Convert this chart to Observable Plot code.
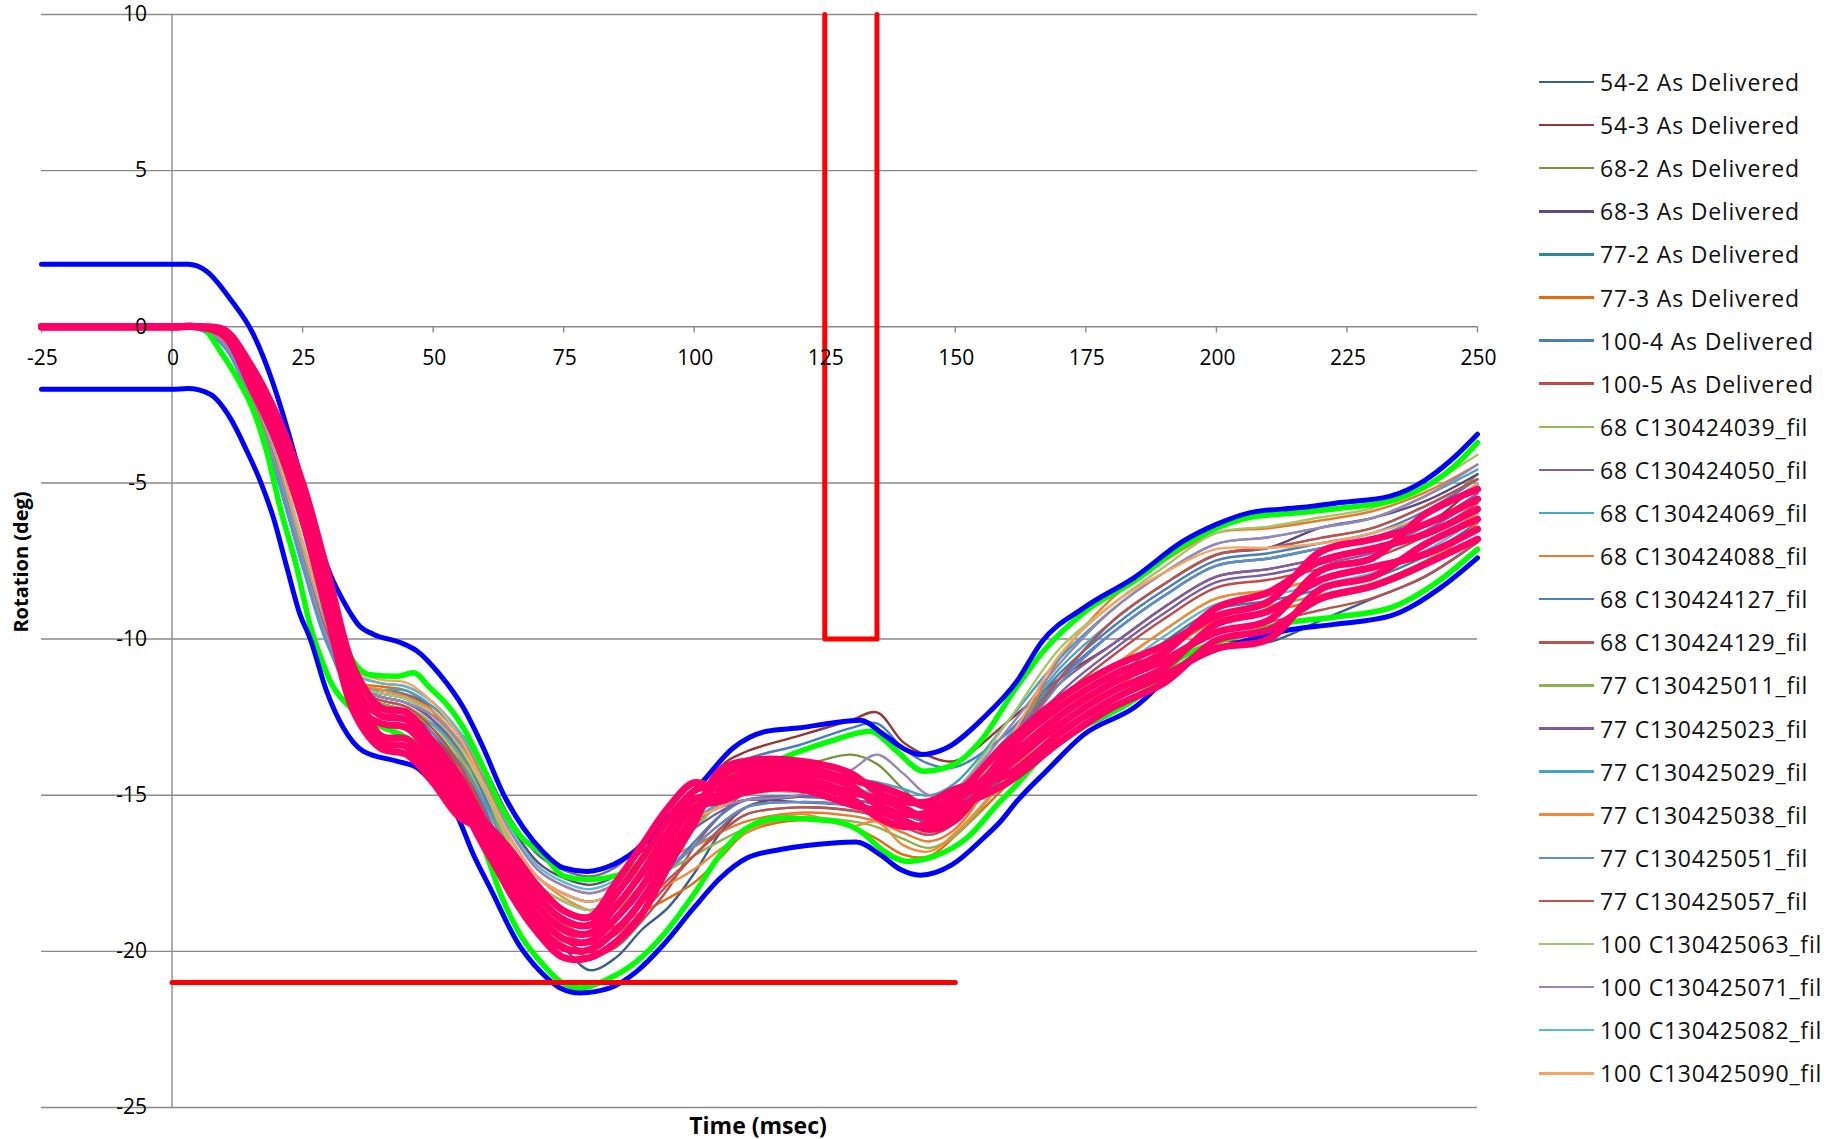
<!DOCTYPE html>
<html><head><meta charset="utf-8">
<script src="https://cdn.jsdelivr.net/npm/d3@7"></script>
<script src="https://cdn.jsdelivr.net/npm/@observablehq/plot@0.6"></script>
<style>
html,body{margin:0;padding:0;background:#fff;}
#wrap{position:relative;width:1843px;height:1139px;overflow:hidden;font-family:"Open Sans",sans-serif;color:#000;}
#chart{position:absolute;left:0;top:0;}
.item{position:absolute;left:1539px;display:flex;align-items:center;white-space:nowrap;transform:translateY(-50%);}
.item .sw{width:55px;height:2.5px;margin-right:6px;}
.item .lb{font-size:23px;color:#111;letter-spacing:0.8px;line-height:30px;}
.title{position:absolute;font-weight:700;white-space:nowrap;line-height:1;transform:translate(-50%,-50%);}
</style></head><body>
<div id="wrap"><div id="chart"></div></div>
<script>
// ---------- data ----------
const xTicks = [-25, 0, 25, 50, 75, 100, 125, 150, 175, 200, 225, 250];
const yTicks = [10, 5, 0, -5, -10, -15, -20, -25];

const seriesNames = ["54-2 As Delivered","54-3 As Delivered","68-2 As Delivered","68-3 As Delivered","77-2 As Delivered","77-3 As Delivered","100-4 As Delivered","100-5 As Delivered","68 C130424039_fil","68 C130424050_fil","68 C130424069_fil","68 C130424088_fil","68 C130424127_fil","68 C130424129_fil","77 C130425011_fil","77 C130425023_fil","77 C130425029_fil","77 C130425038_fil","77 C130425051_fil","77 C130425057_fil","100 C130425063_fil","100 C130425071_fil","100 C130425082_fil","100 C130425090_fil"];
const seriesColors = ["#3B5F8F","#953735","#77933C","#5F497A","#31859C","#E46C0A","#4A7EBB","#BE4B48","#98B954","#7D60A0","#46AAC5","#E97A2B","#4D7FC0","#B85450","#8FB14E","#7A5DA0","#3FA5C2","#F28A3C","#5E8DCB","#C2504D","#A6C46A","#9A84B8","#5DB8D2","#F7A463"];

const times = [-25, 0, 5, 10, 15, 20, 25, 30, 35, 40, 45, 50, 55, 60, 65, 70, 75, 80, 85, 90, 95, 100, 105, 110, 120, 130, 135, 140, 145, 150, 160, 170, 180, 190, 200, 210, 220, 230, 240, 250];

const s01 = [0, 0, -0.05, -0.54, -2.22, -4.5, -7.4, -10.06, -11.77, -12.07, -12.31, -13.02, -14.24, -16.0, -17.9, -19.3, -19.9, -20.6, -20.2, -19.3, -18.6, -17.5, -16.2, -15.38, -15.05, -15.15, -15.3, -15.6, -15.85, -15.45, -14.4, -13.2, -12.4, -11.2, -10.1, -10.1, -9.4, -8.7, -8.0, -6.9];
const s02 = [0, 0, -0.04, -0.46, -2.08, -4.3, -7.2, -9.84, -11.55, -11.85, -12.05, -12.6, -13.76, -15.64, -17.69, -19.06, -19.65, -20.03, -19.73, -18.74, -17.4, -15.77, -14.1, -13.6, -13.1, -12.6, -12.35, -13.3, -13.75, -13.9, -12.65, -11.26, -10.18, -8.98, -8.0, -7.76, -7.42, -7.08, -6.38, -5.03];
const s03 = [0, 0, -0.05, -0.5, -2.15, -4.4, -7.3, -9.95, -11.44, -11.63, -11.79, -12.32, -13.44, -15.1, -17.06, -18.34, -18.9, -19.22, -18.92, -18.18, -17.1, -16.06, -15.11, -14.46, -14.1, -13.7, -14.0, -14.8, -15.4, -15.1, -13.15, -11.26, -9.81, -8.61, -7.65, -7.42, -7.09, -6.76, -6.06, -4.72];
const s04 = [0, 0, -0.03, -0.42, -2.01, -4.2, -7.1, -9.73, -11.44, -11.74, -11.92, -12.46, -13.28, -14.56, -16.01, -17.14, -17.65, -17.87, -17.57, -16.78, -16.2, -15.77, -15.38, -15.15, -15.22, -15.32, -15.48, -15.8, -16.06, -15.45, -13.4, -11.26, -9.44, -8.24, -7.3, -7.08, -6.43, -6.12, -5.58, -4.72];
const s05 = [0, 0, -0.06, -0.58, -2.29, -4.6, -7.5, -10.17, -11.66, -11.96, -12.18, -12.74, -13.76, -15.1, -16.85, -18.1, -18.65, -18.95, -18.65, -17.9, -17.4, -16.64, -16.19, -15.61, -15.39, -15.49, -15.66, -16.0, -16.27, -15.87, -14.15, -12.54, -11.29, -10.09, -9.05, -8.78, -8.41, -8.04, -7.34, -6.27];
const s06 = [0, 0, -0.02, -0.38, -1.94, -4.1, -7.0, -9.62, -11.33, -11.52, -11.66, -12.32, -13.6, -15.46, -17.27, -18.58, -19.15, -19.49, -19.19, -18.74, -18.3, -17.8, -17.0, -16.2, -15.8, -16.0, -16.4, -16.9, -16.95, -16.3, -14.65, -12.86, -11.66, -10.46, -9.4, -9.12, -8.74, -8.36, -7.66, -6.27];
const s07 = [0, 0, -0.05, -0.5, -2.15, -4.4, -7.3, -9.95, -11.55, -11.85, -12.05, -12.6, -13.76, -15.46, -17.48, -18.82, -19.4, -19.76, -19.46, -18.46, -17.1, -15.77, -14.4, -13.85, -13.4, -12.85, -12.7, -13.5, -14.0, -14.1, -13.0, -11.1, -9.63, -8.43, -7.48, -7.25, -6.93, -6.6, -5.9, -4.88];
const s08 = [0, 0, -0.05, -0.54, -2.22, -4.5, -7.4, -10.06, -11.77, -12.18, -12.44, -13.02, -14.08, -15.82, -17.8, -19.18, -19.78, -20.17, -19.87, -19.02, -18.0, -16.64, -15.65, -14.92, -14.88, -14.98, -15.12, -15.4, -15.64, -15.24, -13.65, -11.9, -10.55, -9.35, -8.35, -8.1, -7.75, -7.4, -6.7, -5.65];
const s09 = [0, 0, -0.04, -0.46, -2.08, -4.3, -7.2, -9.84, -11.55, -11.96, -12.18, -12.74, -13.76, -15.1, -16.64, -17.86, -18.4, -18.68, -18.38, -17.62, -16.8, -16.06, -15.25, -14.69, -14.71, -14.81, -14.94, -15.2, -15.43, -15.03, -13.53, -12.06, -10.92, -9.72, -8.7, -8.44, -8.08, -7.72, -7.02, -5.96];
const s10 = [0, 0, -0.05, -0.5, -2.15, -4.4, -7.3, -9.95, -11.44, -11.63, -11.79, -12.18, -12.96, -14.2, -15.8, -16.9, -17.4, -17.6, -17.3, -16.5, -15.75, -15.19, -14.7, -14.46, -14.54, -14.64, -14.76, -15.0, -15.22, -14.82, -13.15, -11.42, -10.18, -8.98, -8.0, -7.76, -7.42, -7.08, -6.38, -5.34];
const s11 = [0, 0, -0.07, -0.62, -2.36, -4.7, -7.6, -10.28, -11.88, -12.18, -12.44, -12.74, -13.6, -14.92, -16.43, -17.62, -18.15, -18.41, -18.11, -17.34, -16.5, -15.77, -15.25, -14.92, -14.88, -14.98, -15.12, -15.4, -15.64, -15.24, -13.15, -10.94, -9.44, -8.24, -7.3, -7.08, -6.76, -6.44, -5.74, -4.88];
const s12 = [0, 0, -0.02, -0.34, -1.87, -4.0, -6.9, -9.51, -11.11, -11.41, -11.53, -12.04, -13.04, -14.56, -16.22, -17.38, -17.9, -18.14, -17.84, -17.34, -16.95, -16.64, -16.19, -15.84, -15.56, -15.66, -15.84, -16.2, -16.48, -16.08, -13.65, -10.62, -8.7, -7.5, -6.6, -6.45, -6.2, -5.9, -5.3, -4.41];
const s13 = [0, 0, -0.05, -0.54, -2.22, -4.5, -7.4, -10.06, -11.55, -11.74, -11.92, -12.46, -13.44, -15.1, -17.06, -18.34, -18.9, -19.22, -18.92, -18.18, -17.4, -16.5, -15.65, -15.15, -15.05, -15.15, -15.3, -15.6, -15.85, -15.45, -13.4, -11.26, -9.81, -8.61, -7.65, -7.42, -7.09, -6.76, -6.06, -5.03];
const s14 = [0, 0, -0.06, -0.58, -2.29, -4.6, -7.5, -10.17, -11.94, -12.29, -12.57, -13.16, -14.24, -15.64, -17.27, -18.58, -19.15, -19.49, -19.19, -18.46, -17.7, -16.93, -16.06, -15.38, -15.22, -15.32, -15.48, -15.8, -16.06, -15.66, -14.28, -13.02, -12.03, -10.83, -9.75, -9.46, -9.07, -8.68, -7.98, -6.89];
const s15 = [0, 0, -0.03, -0.42, -2.01, -4.2, -7.1, -9.84, -11.66, -12.07, -12.31, -12.88, -13.92, -15.28, -16.85, -18.1, -18.65, -18.95, -18.65, -17.9, -17.4, -16.93, -16.46, -16.07, -15.73, -15.83, -16.02, -16.4, -16.69, -16.29, -14.4, -12.7, -11.48, -10.28, -9.23, -8.95, -8.58, -8.2, -7.5, -6.43];
const s16 = [0, 0, -0.04, -0.46, -2.08, -4.3, -7.2, -9.84, -11.55, -11.85, -12.05, -12.6, -13.52, -14.92, -16.43, -17.62, -18.15, -18.41, -18.11, -17.34, -16.65, -16.06, -15.52, -15.15, -15.05, -15.15, -15.3, -15.6, -15.85, -15.45, -13.78, -11.74, -10.37, -9.17, -8.18, -7.93, -7.59, -7.24, -6.54, -5.5];
const s17 = [0, 0, -0.08, -0.66, -2.43, -4.8, -7.7, -10.28, -11.55, -11.63, -11.66, -12.18, -13.12, -14.74, -16.64, -17.86, -18.4, -18.68, -18.38, -17.62, -16.5, -15.48, -14.71, -14.23, -14.37, -14.47, -14.58, -14.8, -15.01, -14.61, -12.65, -10.62, -9.07, -7.87, -6.95, -6.74, -6.43, -6.12, -5.42, -4.57];
const s18 = [0, 0, -0.02, -0.38, -1.94, -4.1, -7.0, -9.62, -11.33, -11.63, -11.86, -12.32, -13.28, -14.74, -16.43, -17.62, -18.28, -18.68, -18.65, -18.18, -17.85, -17.37, -16.73, -16.19, -15.6, -16.0, -15.85, -16.6, -16.8, -16.2, -14.4, -12.54, -10.92, -9.72, -8.7, -8.44, -8.08, -7.72, -7.02, -5.96];
const s19 = [0, 0, -0.06, -0.58, -2.29, -4.6, -7.5, -10.17, -11.83, -12.18, -12.44, -13.02, -13.92, -15.28, -17.06, -18.34, -18.9, -19.22, -18.92, -18.18, -17.4, -16.64, -15.92, -15.38, -15.22, -15.32, -15.48, -15.8, -16.06, -15.66, -13.65, -11.42, -9.81, -8.61, -7.65, -7.42, -7.09, -6.76, -6.06, -5.19];
const s20 = [0, 0, -0.05, -0.5, -2.15, -4.4, -7.3, -9.95, -11.66, -11.96, -12.18, -12.88, -14.0, -15.64, -17.48, -18.82, -19.4, -19.76, -19.46, -18.74, -17.85, -16.93, -16.19, -15.61, -15.39, -15.49, -15.66, -16.0, -16.27, -15.87, -13.65, -11.26, -9.44, -8.24, -7.3, -7.08, -6.76, -6.44, -5.74, -4.88];
const s21 = [0, 0, -0.03, -0.42, -2.01, -4.2, -7.1, -9.73, -11.44, -11.74, -11.92, -12.46, -13.44, -14.92, -16.64, -17.86, -18.4, -18.68, -18.38, -17.48, -16.5, -15.63, -14.84, -14.46, -14.54, -14.64, -14.76, -15.0, -15.22, -14.82, -12.65, -10.3, -8.89, -7.69, -6.6, -6.4, -6.1, -5.8, -5.1, -4.1];
const s22 = [0, 0, -0.05, -0.54, -2.22, -4.5, -7.4, -10.06, -11.55, -11.85, -12.05, -12.46, -13.28, -14.56, -16.22, -17.38, -17.9, -18.14, -17.84, -17.06, -16.2, -15.77, -15.38, -15.15, -15.0, -14.2, -13.7, -14.3, -15.0, -14.8, -12.9, -10.78, -9.07, -7.87, -6.95, -6.74, -6.43, -6.12, -5.42, -4.41];
const s23 = [0, 0, -0.02, -0.38, -1.94, -4.1, -7.0, -9.62, -11.11, -11.41, -11.53, -12.04, -12.96, -14.38, -16.12, -17.26, -17.78, -18.01, -17.71, -17.06, -16.2, -15.63, -15.11, -14.69, -14.71, -14.81, -14.94, -15.2, -15.43, -15.03, -13.53, -12.22, -11.11, -9.91, -8.88, -8.61, -8.25, -7.88, -7.18, -6.12];
const s24 = [0, 0, -0.02, -0.34, -1.87, -4.0, -6.9, -9.51, -11.0, -11.3, -11.4, -12.04, -13.12, -14.74, -16.43, -17.62, -18.15, -18.41, -18.11, -17.34, -16.5, -15.77, -15.38, -14.92, -14.88, -14.98, -15.12, -15.4, -15.64, -15.24, -13.28, -10.5, -8.9, -7.87, -7.12, -7.08, -6.93, -6.6, -6.06, -5.03];

// thick pink test curves (same time grid)
const pinkA = [0, 0, 0, -0.1, -1.2, -2.8, -5.0, -8.0, -11.0, -12.2, -12.35, -13.3, -14.4, -15.88, -17.12, -18.22, -19.0, -19.16, -18.18, -17.04, -15.78, -14.86, -14.6, -14.3, -14.26, -14.7, -15.3, -15.6, -15.56, -15.2, -13.82, -12.46, -11.42, -10.68, -9.78, -9.4, -7.8, -7.4, -6.0, -5.2];
const pinkB = [0, 0, 0, -0.14, -1.34, -2.98, -5.24, -8.28, -11.28, -13.1, -13.2, -14.1, -15.2, -16.72, -18.08, -19.18, -19.9, -19.94, -19.32, -18.36, -16.92, -15.64, -14.2, -13.9, -13.9, -14.3, -14.9, -15.2, -15.2, -14.8, -14.34, -13.02, -11.94, -11.16, -10.3, -10.0, -8.4, -8.0, -6.96, -6.16];
const pinkC = [0, 0, 0, -0.18, -1.48, -3.16, -5.48, -8.56, -11.56, -12.45, -12.6, -13.55, -14.65, -16.44, -17.76, -18.86, -19.6, -19.68, -18.94, -17.92, -16.54, -15.38, -15.2, -14.9, -14.8, -15.3, -15.5, -15.8, -16.1, -15.8, -13.56, -12.18, -11.16, -10.44, -9.0, -8.5, -7.5, -7.1, -6.64, -5.84];
const pinkD = [0, 0, 0, -0.22, -1.62, -3.34, -5.72, -8.84, -11.84, -13.3, -13.45, -14.35, -15.45, -15.9, -16.8, -17.9, -18.7, -18.9, -17.8, -16.6, -15.4, -14.6, -14.8, -14.5, -14.44, -14.9, -15.1, -15.4, -15.74, -15.4, -14.6, -13.3, -12.2, -11.4, -10.04, -9.7, -8.7, -8.3, -7.6, -6.8];
const pinkE = [0, 0, 0, -0.26, -1.76, -3.52, -5.96, -9.12, -12.12, -12.7, -12.85, -13.8, -14.9, -16.6, -18.2, -19.4, -20.2, -20.2, -19.7, -18.8, -17.3, -15.9, -14.4, -14.1, -14.08, -14.5, -14.7, -15.0, -15.38, -15.0, -13.3, -11.9, -10.9, -10.2, -9.26, -8.8, -7.2, -6.8, -6.32, -5.52];
const pinkF = [0, 0, 0, -0.3, -1.9, -3.7, -6.2, -9.4, -12.4, -13.5, -13.7, -14.6, -15.7, -16.16, -17.44, -18.54, -19.3, -19.42, -18.56, -17.48, -16.16, -15.12, -15.0, -14.7, -14.62, -15.1, -15.7, -16.0, -15.92, -15.6, -14.08, -12.74, -11.68, -10.92, -9.52, -9.1, -8.1, -7.7, -7.28, -6.48];

// corridor curves
const blueUpperT = [-25, 0, 3, 6.6, 11.1, 15.6, 19.4, 22, 25.2, 27.7, 30.3, 32.8, 36, 38.6, 43.7, 46.9, 51.3, 55.8, 59.6, 63.5, 67.3, 71, 75, 79.4, 84.5, 90.9, 96, 101.1, 107.5, 113.9, 120.3, 126.7, 131.8, 136.3, 140, 143.3, 148.4, 155.4, 161.8, 166.5, 174.6, 184.2, 193.7, 200.1, 206.5, 216.1, 223.8, 233.3, 239.7, 244.8, 250];
const blueUpperY = [2, 2, 2, 1.78, 0.9, -0.25, -1.84, -3.23, -5.15, -6.65, -7.93, -8.78, -9.6, -9.85, -10.11, -10.38, -11.14, -12.2, -13.48, -14.98, -16.05, -16.8, -17.33, -17.44, -17.22, -16.47, -15.51, -14.66, -13.48, -12.95, -12.84, -12.68, -12.6, -13.06, -13.5, -13.7, -13.48, -12.52, -11.35, -10.1, -9.0, -8.04, -6.86, -6.32, -5.95, -5.79, -5.63, -5.42, -4.94, -4.29, -3.44];
const blueLowerT = [-25, 0, 3, 7.3, 11.1, 14.3, 16.9, 19.4, 22, 24.5, 26.4, 29.6, 32.8, 36.6, 43, 46.9, 50.7, 54.5, 57.7, 61, 66.3, 70.5, 74.3, 78.2, 83.9, 89, 94.1, 99.9, 105, 110.1, 116.5, 126.7, 131, 135.6, 139.5, 143.3, 149.4, 155.4, 158.6, 161.8, 167.6, 174.6, 184.2, 193.7, 200.1, 206.5, 212.9, 222.5, 233.3, 242.9, 250];
const blueLowerY = [-2, -2, -1.98, -2.16, -2.91, -3.97, -4.94, -6.11, -7.71, -9.21, -9.96, -11.67, -12.84, -13.59, -13.91, -14.12, -14.76, -15.62, -16.9, -18.0, -19.75, -20.64, -21.17, -21.33, -21.17, -20.64, -19.79, -18.61, -17.65, -17.01, -16.74, -16.53, -16.5, -16.9, -17.38, -17.56, -17.22, -16.37, -15.85, -15.19, -14.2, -13.06, -12.2, -10.81, -10.33, -10.01, -9.74, -9.53, -9.26, -8.36, -7.4];
const greenUpperT = [-25, 0, 8, 12, 16, 20, 25, 30, 34.7, 37.9, 43, 46.2, 49.4, 52.6, 55.8, 59.6, 62.8, 66.7, 71.1, 75, 79.4, 85.8, 89, 95, 101, 107.5, 113.9, 120.3, 126.1, 133.7, 138.8, 143.9, 149.7, 154.8, 161.2, 166.9, 174.6, 184.2, 193.7, 200, 206.5, 216, 224, 233, 239.7, 245, 250];
const greenUpperY = [0, 0, 0, -0.5, -1.6, -3.0, -5.6, -8.6, -10.71, -11.14, -11.19, -11.08, -11.56, -12.09, -12.84, -14.12, -15.3, -16.3, -16.9, -17.59, -17.7, -17.54, -17.22, -16.2, -15.1, -14.34, -14.02, -13.59, -13.27, -12.95, -13.59, -14.23, -14.02, -13.27, -11.67, -10.38, -9.15, -8.15, -7.0, -6.45, -6.1, -5.95, -5.8, -5.6, -5.15, -4.55, -3.71];
const greenLowerT = [-25, 0, 5, 6, 9.2, 12.4, 15.6, 18.1, 20.7, 23.9, 26.4, 28.5, 30.3, 33.5, 35.4, 40, 43.7, 49.4, 55, 60, 63, 66.7, 70.5, 74.3, 78.2, 83.3, 89, 94.1, 99.9, 105, 110.1, 116.5, 126.7, 131.8, 136.3, 140.7, 145.9, 152.2, 158.6, 161.2, 167.6, 174.6, 184.2, 193.7, 200.1, 206.5, 212.9, 222.5, 233.3, 242.9, 250];
const greenLowerY = [0, 0, 0, -0.05, -0.77, -1.62, -2.69, -3.97, -5.79, -7.71, -9.53, -10.6, -11.35, -12.09, -12.36, -12.8, -13.05, -13.7, -15.0, -16.8, -18.2, -19.47, -20.32, -20.96, -21.17, -20.9, -20.32, -19.47, -18.18, -16.9, -16.05, -15.73, -15.83, -16.15, -16.79, -17.12, -16.96, -16.37, -15.2, -14.76, -13.59, -12.8, -11.95, -10.55, -10.1, -9.8, -9.5, -9.3, -9.0, -8.1, -7.12];

// red limit box and floor line
const redBoxT = [125, 125, 135, 135];
const redBoxY = [10, -10, -10, 10];
const redFloorT = [0, 150];
const redFloorY = [-21, -21];

// ---------- build tables ----------
const thinValues = [s01,s02,s03,s04,s05,s06,s07,s08,s09,s10,s11,s12,s13,s14,s15,s16,s17,s18,s19,s20,s21,s22,s23,s24];
const thinRows = thinValues.flatMap((vals, i) => vals.map((v, j) => ({t: times[j], v, s: seriesNames[i]})));
const pinkRows = [pinkA,pinkB,pinkC,pinkD,pinkE,pinkF].flatMap((vals, i) => vals.map((v, j) => ({t: times[j], v, s: "p" + i})));
const pairs = (T, Y, id) => T.map((t, i) => ({t, v: Y[i], s: id}));
const greenRows = [...pairs(greenUpperT, greenUpperY, "gu"), ...pairs(greenLowerT, greenLowerY, "gl")];
const blueRows = [...pairs(blueUpperT, blueUpperY, "bu"), ...pairs(blueLowerT, blueLowerY, "bl")];
const redBox = pairs(redBoxT, redBoxY, "box");
const redFloor = pairs(redFloorT, redFloorY, "floor");

const grid = "#8a8a8a";
const chart = Plot.plot({
  width: 1500, height: 1139,
  marginLeft: 41, marginRight: 23, marginTop: 14, marginBottom: 32,
  x: {domain: [-25, 250], axis: null},
  y: {domain: [-25, 10], axis: null},
  color: {domain: seriesNames, range: seriesColors},
  style: {fontFamily: "'Open Sans', sans-serif", fontSize: "21px", color: "#000", background: "#fff"},
  marks: [
    Plot.ruleY(yTicks, {y: d => d, stroke: grid, strokeWidth: 1.4}),
    Plot.ruleX([0], {x: d => d, stroke: grid, strokeWidth: 1.4}),
    Plot.ruleX(xTicks, {x: d => d, y1: 0, y2: -0.2, stroke: grid, strokeWidth: 1.4}),
    Plot.line(thinRows, {x: "t", y: "v", z: "s", stroke: "s", strokeWidth: 2.4, curve: "catmull-rom"}),
    Plot.line(greenRows, {x: "t", y: "v", z: "s", stroke: "#00FF00", strokeWidth: 5.5, curve: "monotone-x"}),
    Plot.line(blueRows, {x: "t", y: "v", z: "s", stroke: "#0000FF", strokeWidth: 5, curve: "monotone-x"}),
    Plot.line(pinkRows, {x: "t", y: "v", z: "s", stroke: "#FF0066", strokeWidth: 7, curve: "catmull-rom"}),
    Plot.line(redBox, {x: "t", y: "v", stroke: "#FF0000", strokeWidth: 5}),
    Plot.line(redFloor, {x: "t", y: "v", stroke: "#FF0000", strokeWidth: 5, strokeLinecap: "round"}),
    Plot.text(xTicks, {x: d => d, y: 0, text: d => String(d), dy: 31, dx: 1, fontSize: 21, fill: "#000", letterSpacing: "2px"}),
    Plot.text(yTicks, {x: 0, y: d => d, text: d => String(d), dx: -25, textAnchor: "end", fontSize: 21, fill: "#000", letterSpacing: "2px"})
  ]
});
document.getElementById("chart").appendChild(chart);

// ---------- titles and legend ----------
const wrap = document.getElementById("wrap");
const yTitle = document.createElement("div");
yTitle.className = "title";
yTitle.textContent = "Rotation (deg)";
Object.assign(yTitle.style, {left: "21px", top: "562px", fontSize: "20px", transform: "translate(-50%,-50%) rotate(-90deg)"});
wrap.appendChild(yTitle);
const xTitle = document.createElement("div");
xTitle.className = "title";
xTitle.textContent = "Time (msec)";
Object.assign(xTitle.style, {left: "758px", top: "1125px", fontSize: "23px"});
wrap.appendChild(xTitle);

seriesNames.forEach((name, i) => {
  const it = document.createElement("div");
  it.className = "item";
  it.style.top = (82 + 43.1 * i) + "px";
  const sw = document.createElement("div");
  sw.className = "sw";
  sw.style.background = seriesColors[i];
  const lb = document.createElement("div");
  lb.className = "lb";
  lb.textContent = name;
  it.appendChild(sw); it.appendChild(lb);
  wrap.appendChild(it);
});
</script>
</body></html>
